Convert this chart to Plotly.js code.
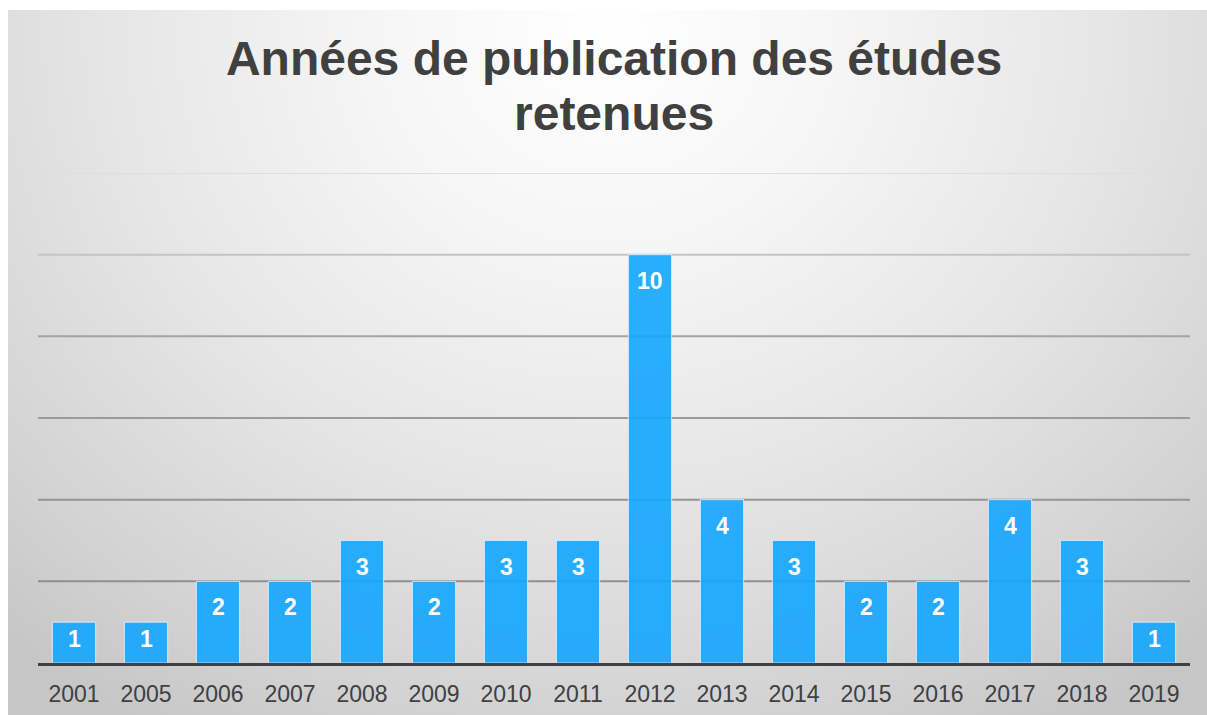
<!DOCTYPE html>
<html>
<head>
<meta charset="utf-8">
<script src="https://cdn.plot.ly/plotly-3.0.1.min.js"></script>
<style>
  html, body { margin: 0; padding: 0; background: #ffffff; width: 1207px; height: 715px; overflow: hidden; }
  #chart {
    position: absolute; left: 8px; top: 10px; width: 1199px; height: 705px;
    background: radial-gradient(ellipse 75% 115% at 50% 4%, #ffffff 0%, #f6f6f6 25%, #e6e6e6 55%, #d2d2d2 85%, #c6c6c6 100%);
  }
</style>
</head>
<body>
<div id="chart"></div>
<script>
// ---- data ----
const years = ["2001","2005","2006","2007","2008","2009","2010","2011","2012","2013","2014","2015","2016","2017","2018","2019"];
const counts = [1, 1, 2, 2, 3, 2, 3, 3, 10, 4, 3, 2, 2, 4, 3, 1];
const gridValues = [2, 4, 6, 8, 10, 12];
const titleLine1 = "Années de publication des études";
const titleLine2 = "retenues";

// ---- style ----
const yMax = 12;
const plotHeightPx = 705 - 163 - 52;
const pxPerUnit = plotHeightPx / yMax;
const gridColors = ["#8f8f8f", "#959595", "#9b9b9b", "#a3a3a3", "#c4c4c4", "#dedede"];
const titleFont = { family: "Liberation Sans, Arial, sans-serif", size: 48, color: "#404040", weight: "bold" };

const trace = {
  type: "bar",
  x: years,
  y: counts,
  marker: {
    color: "#14a6ff",
    opacity: 0.9,
    line: { color: "rgba(220,240,255,0.8)", width: 1.2 }
  },
  hoverinfo: "x+y"
};

// category axis: annotation x given as the category's index
const labelAnnotations = years.map((yr, i) => ({
  x: i, y: counts[i], xref: "x", yref: "y",
  text: String(counts[i]),
  showarrow: false,
  yanchor: "middle",
  yshift: -Math.min(26, 0.4 * pxPerUnit * counts[i]),
  font: { family: "Liberation Sans, Arial, sans-serif", size: 23, color: "#ffffff", weight: "bold" }
}));

const titleLine2Annotation = {
  text: titleLine2, showarrow: false,
  xref: "paper", yref: "paper", x: 0.5, y: 1 + 60 / plotHeightPx,
  xanchor: "center", yanchor: "middle",
  font: titleFont
};

const gridShapes = gridValues.map((v, i) => ({
  type: "line", xref: "paper", yref: "y", x0: 0, x1: 1, y0: v, y1: v,
  layer: "below",
  line: { color: gridColors[i], width: 2 }
}));

const layout = {
  width: 1199, height: 705,
  paper_bgcolor: "rgba(0,0,0,0)",
  plot_bgcolor: "rgba(0,0,0,0)",
  margin: { l: 30, r: 17, t: 163, b: 52, pad: 0 },
  bargap: 0.4,
  showlegend: false,
  title: {
    text: titleLine1,
    x: 0.5, xref: "paper", xanchor: "center",
    y: 1 - 48 / 705, yref: "container", yanchor: "middle",
    font: titleFont
  },
  xaxis: {
    type: "category",
    range: [-0.5, years.length - 0.5],
    showgrid: false,
    showline: true, linecolor: "#404040", linewidth: 3,
    ticks: "",
    ticklabelstandoff: 8,
    tickfont: { family: "Liberation Sans, Arial, sans-serif", size: 23, color: "#404040" },
    fixedrange: true
  },
  yaxis: {
    range: [0, yMax],
    showgrid: false,
    zeroline: false,
    showticklabels: false,
    ticks: "",
    fixedrange: true
  },
  shapes: gridShapes,
  annotations: labelAnnotations.concat([titleLine2Annotation])
};

Plotly.newPlot("chart", [trace], layout, { displayModeBar: false, staticPlot: true });
</script>
</body>
</html>
